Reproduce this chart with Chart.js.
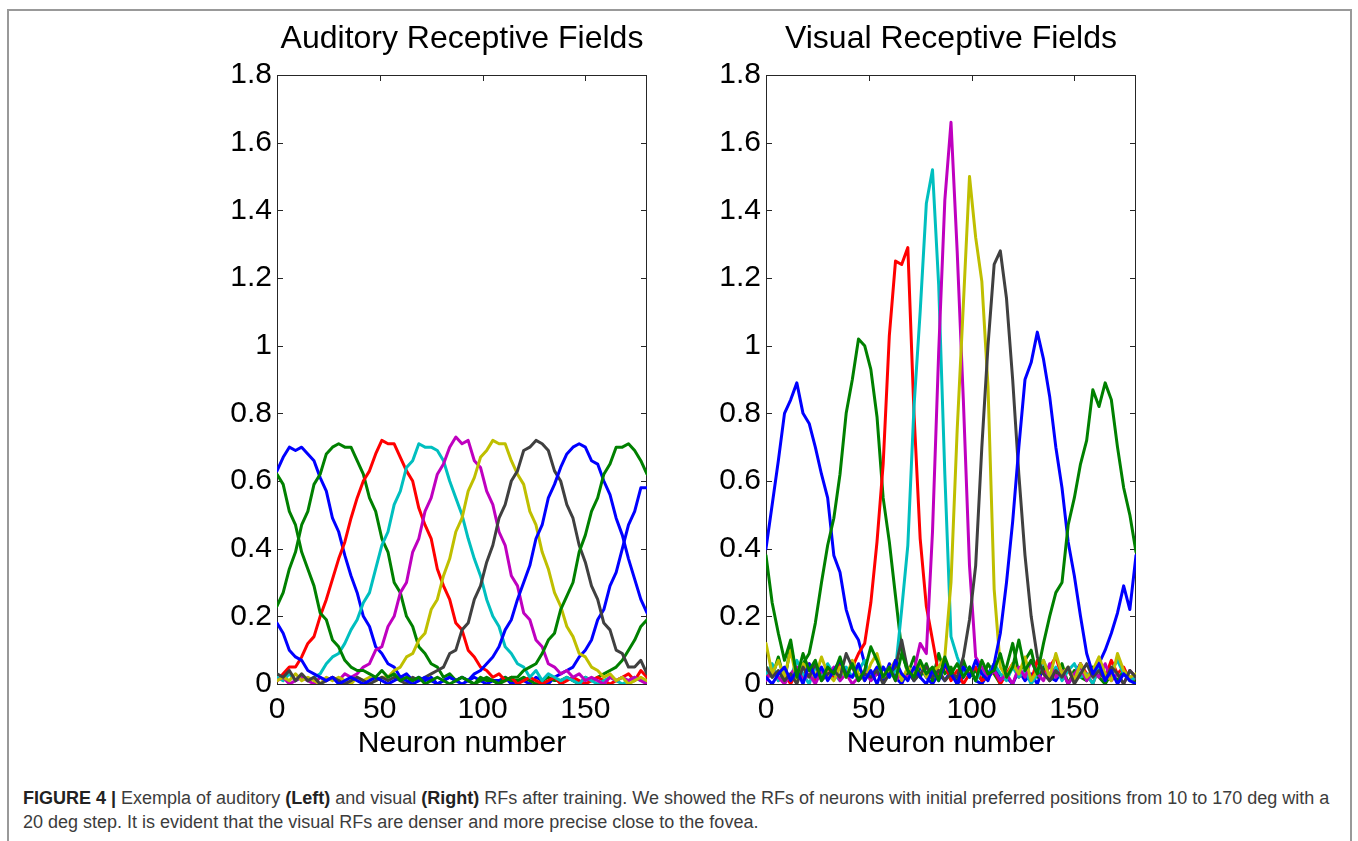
<!DOCTYPE html>
<html>
<head>
<meta charset="utf-8">
<title>Receptive Fields</title>
<script src="https://cdn.jsdelivr.net/npm/chart.js@4.4.1/dist/chart.umd.min.js"></script>
<style>
  html, body { margin: 0; padding: 0; background: #fff; }
  body { width: 1358px; height: 841px; position: relative; overflow: hidden; font-family: "Liberation Sans", Arial, sans-serif; }
  #frame { position: absolute; left: 7px; top: 9px; width: 1341px; height: 900px; border: 2px solid #999; }
  canvas { position: absolute; top: 20px; }
  #auditory { left: 207px; }
  #visual { left: 696px; }
  #caption { position: absolute; left: 23px; top: 786px; width: 1320px; font-size: 18px; line-height: 24px; color: #3c3c3c; }
  #caption b { color: #222; }
</style>
</head>
<body>
<div id="frame"></div>
<canvas id="auditory" width="450" height="744"></canvas>
<canvas id="visual" width="450" height="744"></canvas>
<div id="caption"><b>FIGURE 4 |</b> Exempla of auditory <b>(Left)</b> and visual <b>(Right)</b> RFs after training. We showed the RFs of neurons with initial preferred positions from 10 to 170 deg with a 20 deg step. It is evident that the visual RFs are denser and more precise close to the fovea.</div>

<script>
// neuron index (every 3rd neuron)
const neurons = [0,3,6,9,12,15,18,21,24,27,30,33,36,39,42,45,48,51,54,57,60,63,66,69,72,75,78,81,84,87,90,93,96,99,102,105,108,111,114,117,120,123,126,129,132,135,138,141,144,147,150,153,156,159,162,165,168,171,174,177,180];
const xTicks = [0, 50, 100, 150];
const yTicks = [0, 0.2, 0.4, 0.6, 0.8, 1, 1.2, 1.4, 1.6, 1.8];

// plot order of the 9 neurons (pref. 10..170 deg)
const lineColors = ['#0000ff', '#008000', '#ff0000', '#00bfbf', '#bf00bf', '#bfbf00', '#404040', '#0000ff', '#008000'];

// auditory RFs
const audBlue1 = [.63,.67,.70,.69,.70,.68,.66,.61,.57,.49,.45,.38,.32,.27,.20,.17,.11,.09,.06,.05,.02,.03,.01,.02,.01,.02,.00,.01,.02,.01,.00,.01,.02,.01,.00,.01,.01,.02,.00,.01,.01,.00,.02,.01,.00,.02,.03,.04,.05,.08,.10,.13,.19,.22,.29,.33,.40,.47,.51,.58,.58];
const audGreen1 = [.23,.27,.34,.39,.47,.51,.59,.62,.68,.70,.71,.70,.70,.66,.62,.55,.51,.43,.39,.30,.27,.20,.17,.11,.09,.06,.05,.02,.03,.01,.02,.01,.00,.02,.01,.01,.00,.02,.01,.01,.02,.01,.00,.01,.02,.01,.01,.02,.01,.00,.02,.01,.02,.03,.04,.05,.07,.10,.13,.17,.19];
const audRed = [.01,.03,.05,.05,.08,.12,.14,.20,.25,.31,.37,.42,.49,.55,.60,.63,.68,.72,.71,.71,.67,.63,.60,.52,.47,.43,.34,.29,.25,.18,.16,.10,.08,.05,.04,.02,.03,.01,.02,.00,.01,.02,.01,.00,.01,.02,.00,.01,.02,.01,.00,.01,.02,.01,.00,.01,.02,.03,.01,.04,.02];
const audCyan = [.02,.01,.03,.01,.02,.01,.02,.03,.06,.08,.09,.12,.16,.19,.24,.27,.34,.41,.45,.53,.57,.64,.66,.71,.70,.70,.69,.66,.60,.55,.50,.43,.37,.32,.25,.20,.17,.11,.09,.06,.05,.02,.04,.01,.03,.02,.01,.02,.01,.00,.02,.01,.00,.01,.02,.01,.00,.01,.02,.01,.01];
const audMagenta = [.01,.02,.00,.01,.02,.01,.00,.02,.01,.02,.01,.03,.02,.03,.05,.06,.10,.11,.17,.20,.27,.30,.39,.43,.51,.55,.62,.65,.70,.73,.71,.72,.66,.64,.57,.53,.45,.41,.32,.29,.21,.19,.13,.11,.06,.05,.03,.04,.02,.03,.01,.02,.01,.00,.02,.01,.02,.01,.02,.01,.00];
const audYellow = [.01,.02,.01,.03,.01,.02,.01,.00,.02,.01,.02,.01,.00,.02,.01,.02,.01,.02,.02,.04,.05,.08,.09,.13,.15,.22,.25,.32,.37,.45,.49,.57,.61,.67,.69,.72,.71,.71,.66,.62,.59,.51,.47,.39,.34,.27,.23,.17,.14,.09,.08,.05,.04,.02,.03,.01,.02,.00,.01,.02,.01];
const audBlack = [.03,.02,.04,.01,.03,.01,.02,.00,.01,.02,.01,.00,.01,.02,.01,.00,.01,.02,.01,.02,.01,.00,.02,.01,.02,.03,.04,.05,.09,.10,.16,.18,.25,.29,.36,.41,.49,.53,.60,.63,.69,.70,.72,.71,.69,.63,.60,.53,.49,.41,.36,.29,.25,.18,.16,.10,.09,.05,.05,.07,.03];
const audBlue2 = [.18,.15,.10,.08,.07,.04,.03,.02,.01,.02,.00,.01,.02,.01,.00,.01,.02,.01,.00,.01,.02,.01,.00,.01,.02,.01,.00,.01,.02,.01,.02,.01,.03,.04,.06,.08,.11,.16,.19,.25,.30,.35,.43,.47,.55,.59,.64,.68,.70,.71,.70,.66,.65,.60,.56,.49,.44,.37,.31,.25,.21];
const audGreen2 = [.62,.59,.51,.47,.39,.34,.29,.21,.19,.13,.11,.07,.05,.04,.04,.03,.02,.04,.02,.03,.01,.02,.01,.02,.00,.01,.02,.01,.00,.01,.02,.01,.00,.01,.02,.01,.00,.01,.02,.02,.04,.05,.06,.09,.13,.15,.22,.26,.30,.39,.44,.51,.55,.62,.65,.70,.70,.71,.69,.66,.62];

// visual RFs
const visBlue1 = [.40,.53,.66,.80,.84,.89,.80,.77,.70,.62,.55,.38,.33,.22,.16,.13,.06,.02,.05,.01,.06,.02,.00,.04,.01,.05,.02,.00,.03,.01,.04,.00,.02,.05,.01,.00,.03,.06,.01,.02,.00,.04,.01,.03,.00,.05,.02,.01,.04,.00,.03,.06,.02,.04,.06,.10,.15,.21,.29,.22,.38];
const visGreen1 = [.05,.02,.08,.01,.11,.03,.06,.09,.18,.30,.41,.49,.62,.80,.90,1.02,1.00,.93,.79,.55,.42,.26,.10,.03,.08,.02,.06,.01,.09,.03,.05,.00,.07,.02,.04,.01,.06,.03,.00,.05,.12,.03,.07,.10,.02,.05,.01,.03,.06,.00,.04,.02,.01,.05,.02,.00,.03,.01,.04,.02,.00];
const visRed = [.02,.05,.01,.03,.00,.04,.02,.06,.01,.03,.05,.02,.06,.04,.05,.09,.12,.24,.42,.65,1.03,1.25,1.24,1.29,.80,.43,.23,.13,.03,.06,.01,.04,.00,.03,.05,.01,.02,.04,.00,.03,.06,.02,.04,.01,.07,.03,.05,.08,.02,.04,.01,.06,.03,.00,.05,.02,.07,.03,.05,.01,.02];
const visCyan = [.03,.06,.01,.04,.02,.07,.03,.00,.05,.02,.06,.03,.01,.05,.02,.04,.07,.01,.03,.05,.02,.04,.22,.41,.82,1.10,1.42,1.52,1.18,.62,.14,.08,.03,.05,.01,.04,.02,.06,.03,.01,.05,.02,.04,.00,.03,.07,.02,.05,.01,.04,.06,.02,.03,.00,.05,.02,.04,.07,.03,.01,.02];
const visMagenta = [.01,.04,.02,.00,.03,.05,.01,.03,.00,.04,.02,.05,.01,.03,.00,.02,.04,.01,.03,.02,.05,.01,.03,.02,.04,.12,.09,.45,.98,1.43,1.66,1.28,.84,.35,.08,.05,.02,.04,.01,.03,.00,.05,.02,.07,.03,.01,.06,.02,.04,.00,.03,.05,.01,.04,.02,.06,.01,.03,.00,.04,.02];
const visYellow = [.12,.03,.07,.02,.10,.01,.06,.04,.02,.08,.03,.01,.05,.02,.07,.03,.01,.06,.09,.02,.04,.07,.01,.05,.03,.06,.02,.04,.05,.08,.30,.75,1.12,1.50,1.32,1.19,.88,.28,.05,.02,.06,.03,.08,.01,.04,.07,.02,.09,.03,.05,.01,.06,.02,.04,.08,.03,.01,.09,.04,.02,.03];
const visBlack = [.05,.02,.04,.01,.03,.00,.05,.02,.06,.01,.03,.04,.02,.09,.05,.01,.03,.02,.04,.00,.03,.05,.13,.04,.01,.03,.05,.02,.04,.01,.03,.02,.08,.19,.35,.70,1.00,1.24,1.28,1.14,.90,.62,.38,.20,.08,.03,.01,.04,.02,.05,.00,.03,.06,.02,.04,.01,.05,.03,.00,.04,.02];
const visBlue2 = [.02,.00,.03,.05,.01,.04,.00,.06,.02,.05,.01,.04,.07,.03,.02,.06,.01,.04,.00,.05,.02,.07,.03,.01,.05,.02,.00,.04,.01,.06,.03,.00,.05,.02,.07,.03,.01,.06,.15,.30,.48,.70,.90,.95,1.04,.96,.85,.70,.58,.42,.32,.20,.09,.03,.06,.01,.04,.00,.03,.01,.00];
const visGreen2 = [.38,.24,.15,.07,.13,.02,.09,.04,.07,.01,.05,.03,.08,.02,.06,.01,.04,.11,.07,.02,.05,.01,.09,.04,.02,.07,.03,.05,.01,.08,.03,.06,.02,.05,.01,.07,.03,.04,.09,.02,.05,.13,.04,.07,.03,.12,.20,.27,.30,.47,.55,.65,.72,.87,.82,.89,.84,.70,.58,.50,.39];

const auditorySeries = [audBlue1, audGreen1, audRed, audCyan, audMagenta, audYellow, audBlack, audBlue2, audGreen2];
const visualSeries = [visBlue1, visGreen1, visRed, visCyan, visMagenta, visYellow, visBlack, visBlue2, visGreen2];

Chart.defaults.font.family = "'Liberation Sans', Arial, sans-serif";
Chart.defaults.color = '#000';

// box round the plot area with inward ticks on all four sides
const boxAxes = {
  id: 'boxAxes',
  beforeDatasetsDraw(chart) {
    const { ctx, chartArea: a, scales: { x, y } } = chart;
    const len = 6;
    ctx.save();
    ctx.strokeStyle = '#262626';
    ctx.lineWidth = 1;
    ctx.beginPath();
    x.ticks.forEach((t) => {
      const px = Math.round(x.getPixelForValue(t.value)) + 0.5;
      ctx.moveTo(px, a.bottom);
      ctx.lineTo(px, a.bottom - len);
      ctx.moveTo(px, a.top);
      ctx.lineTo(px, a.top + len);
    });
    y.ticks.forEach((t) => {
      const py = Math.round(y.getPixelForValue(t.value)) + 0.5;
      ctx.moveTo(a.left, py);
      ctx.lineTo(a.left + len, py);
      ctx.moveTo(a.right, py);
      ctx.lineTo(a.right - len, py);
    });
    ctx.stroke();
    ctx.strokeRect(Math.round(a.left) + 0.5, Math.round(a.top) + 0.5, Math.round(a.right - a.left) - 1, Math.round(a.bottom - a.top));
    ctx.restore();
  }
};

function drawPanel(canvasId, titleText, series) {
  const ctx = document.getElementById(canvasId);
  const datasets = series.map((values, i) => ({
    data: values.map((v, j) => ({ x: neurons[j], y: v })),
    borderColor: lineColors[i],
    backgroundColor: lineColors[i],
    borderWidth: 3,
    borderJoinStyle: 'round',
    borderCapStyle: 'round',
    pointRadius: 0,
    tension: 0,
    order: series.length - i
  }));

  return new Chart(ctx, {
    type: 'line',
    data: { datasets: datasets },
    options: {
      responsive: false,
      animation: false,
      events: [],
      layout: { padding: { left: 0, right: 10, top: 0, bottom: 0 } },
      plugins: {
        legend: { display: false },
        tooltip: { enabled: false },
        title: {
          display: true,
          text: titleText,
          fullSize: false,
          color: '#000',
          font: { size: 32, weight: 'normal' },
          padding: { top: 0, bottom: 16.6 }
        }
      },
      scales: {
        x: {
          type: 'linear',
          min: 0,
          max: 180,
          grid: { display: false, drawTicks: false },
          border: { display: false },
          afterBuildTicks: (scale) => { scale.ticks = xTicks.map((v) => ({ value: v })); },
          afterFit: (scale) => { scale.height = 80; },
          ticks: { font: { size: 30 }, color: '#000', padding: 8, maxRotation: 0, callback: (v) => String(v) },
          title: { display: true, text: 'Neuron number', color: '#000', font: { size: 30 }, padding: { top: 0, bottom: 2 } }
        },
        y: {
          min: 0,
          max: 1.8,
          grid: { display: false, drawTicks: false },
          border: { display: false },
          afterBuildTicks: (scale) => { scale.ticks = yTicks.map((v) => ({ value: v })); },
          afterFit: (scale) => { scale.width = 70; },
          ticks: { font: { size: 30 }, color: '#000', padding: 5, callback: (v) => String(v) }
        }
      }
    },
    plugins: [boxAxes]
  });
}

drawPanel('auditory', 'Auditory Receptive Fields', auditorySeries);
drawPanel('visual', 'Visual Receptive Fields', visualSeries);
</script>
</body>
</html>
